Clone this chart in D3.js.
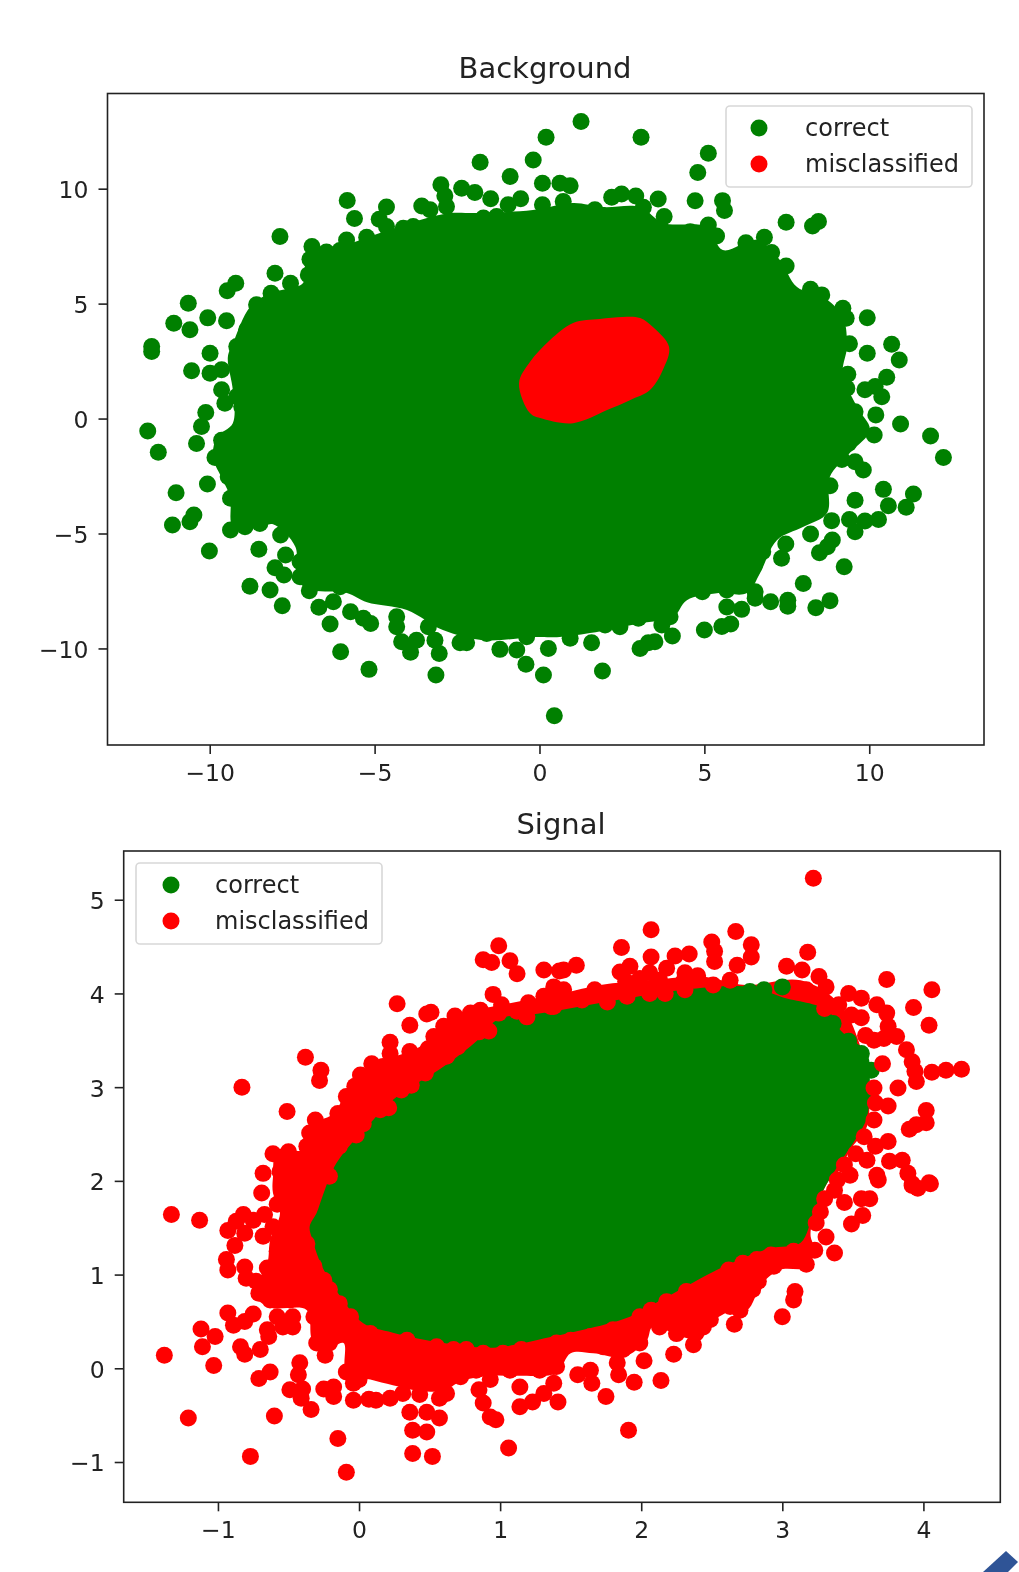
<!DOCTYPE html>
<html>
<head>
<meta charset="utf-8">
<script src="https://cdn.jsdelivr.net/npm/d3@7"></script>
<style>
  html, body { margin: 0; background: #fff; }
  svg { display: block; filter: blur(0.5px); }
  text { font-family: "DejaVu Sans", sans-serif; fill: #222; }
</style>
</head>
<body>
<div id="chart"></div>
<script>
var seriesNames = ['correct', 'misclassified']

var bgXTicks = [-10, -5, 0, 5, 10]
var bgYTicks = [-10, -5, 0, 5, 10]
var sigXTicks = [-1, 0, 1, 2, 3, 4]
var sigYTicks = [-1, 0, 1, 2, 3, 4, 5]

// the solid middle of each cloud is too dense to read point by point, so it is an outline
var bgCorrectMass = [[-9.3,-0.2],[-9.3,1.24],[-9.45,2.68],[-9.29,3.29],[-8.78,4.85],[-8.17,5.46],[-7.17,5.9],[-7.05,7.03],[-6.05,7.46],[-4.84,8.07],[-3.62,8.64],[-2.71,8.94],[-1.9,8.94],[-0.2,9.07],[1.02,9.38],[1.93,9.2],[3.05,9.2],[3.74,8.51],[5.08,8.33],[5.56,7.33],[6.6,7.77],[7.29,6.9],[7.81,5.72],[8.6,5.29],[9.2,4.42],[9.32,3.11],[9.2,1.98],[9.63,0.5],[10.02,-0.5],[9.41,-1.5],[8.8,-2.55],[8.72,-4.11],[7.99,-4.72],[7.2,-5.29],[6.69,-6.72],[6.29,-7.59],[5.38,-7.6],[4.47,-7.9],[4.05,-8.64],[3.05,-8.9],[1.53,-9.33],[0.53,-9.51],[-0.2,-9.51],[-1.71,-9.64],[-2.93,-9.2],[-4.02,-8.33],[-5.23,-7.99],[-5.84,-7.59],[-6.87,-7.46],[-7.35,-7.03],[-7.4,-5.59],[-8.08,-4.6],[-8.47,-4.72],[-9.29,-4.72],[-9.38,-3.42],[-9.6,-2.68],[-9.9,-1.68],[-9.78,-0.8]]

var bgMisclassifiedMass = [[-0.62,1.54],[-0.29,2.46],[0.32,3.42],[1.02,4.16],[1.83,4.33],[2.53,4.42],[3.05,4.37],[3.44,3.98],[3.93,3.11],[3.74,2.11],[3.35,1.24],[2.74,0.8],[2.05,0.37],[1.02,-0.2],[0.02,0.02],[-0.29,0.24]]

var bgCorrectPoints = [
  [0.20,12.24],[-1.80,11.15],[-0.19,11.25],[-0.89,10.53],[0.09,10.24],[-2.99,10.17],[-2.87,9.69],[-2.36,10.02],[-1.96,9.83],[-1.48,9.56],[-0.57,9.56],[-0.95,9.30],[0.09,9.30],[-3.57,9.25],[-4.64,9.20],[-4.86,8.67],[-5.83,9.49],[-5.61,8.70],[-5.85,7.77],[-5.24,7.89],[-7.87,7.92],[-6.90,7.48],[-6.46,7.24],[-6.96,6.93],[-6.05,7.31],[-6.05,6.54],[-7.01,6.25],[-6.66,6.40],[-8.02,6.32],[-7.55,5.89],[-8.14,5.45],[-8.58,4.95],[-9.21,5.89],[-9.47,5.56],[-10.65,5.02],[-11.09,4.15],[-10.60,3.86],[-10.06,4.38],[-9.49,4.25],[-8.88,3.86],[-11.76,3.13],[-11.76,2.92],[-9.99,2.84],[-10.55,2.08],[-9.99,1.97],[-9.64,2.12],[-9.18,3.13],[-9.64,1.25],[-9.18,0.96],[-9.54,0.67],[-9.03,0.52],[-10.12,0.26],[-10.25,-0.35],
  [-3.32,9.08],[-2.82,9.22],[-4.13,8.28],[-3.83,8.35],[-4.64,8.35],[-1.70,8.72],[-1.30,8.79],[-8.38,4.44],[-7.77,4.00],[-6.86,5.45],[-6.46,5.74],[-7.37,4.87],
  [-11.88,-0.54],[-11.56,-1.47],[-11.02,-3.23],[-10.48,-4.2],[-10.60,-4.49],[-11.13,-4.63],[-10.40,-1.08],[-9.64,-0.94],[-9.84,-1.69],[-10.07,-2.85],[-10.01,-5.76],[-9.44,-2.53],[-9.13,-2.31],[-9.37,-3.47],[-9.37,-4.85],[-8.93,-4.71],[-8.98,-3.91],[-8.48,-4.56],[-8.53,-3.47],[-7.85,-5.07],[-8.51,-5.68],[-7.70,-5.94],[-8.02,-6.49],[-7.75,-6.81],[-7.26,-6.88],[-7.26,-6.23],[-8.78,-7.29],[-8.17,-7.46],[-7.80,-8.14],[-6.98,-7.49],[-6.69,-8.21],[-6.25,-7.97],[-6.35,-8.94],[-6.03,-10.14],[-5.73,-8.40],[-5.34,-8.69],[-5.12,-8.91],[-5.17,-10.91],[-6.05,-7.32],[-4.33,-8.62],[-4.33,-9.06],[-4.18,-9.71],[-3.91,-10.17],[-3.73,-9.64],[-3.17,-9.64],[-3.04,-10.22],[-3.37,-9.06],[-3.14,-11.16],[-2.41,-9.75],[-2.21,-9.75],[-1.60,-9.35],[-1.20,-10.04],[-0.69,-10.07],[-0.39,-9.49],[-0.41,-10.69],[0.12,-11.16],[0.27,-10.0],
  [0.45,-12.93],[0.93,-9.56],[1.58,-9.75],[1.91,-10.98],[2.44,-9.06],[1.99,-8.98],[3.05,-10.0],[3.30,-9.75],[3.50,-9.71],[4.03,-9.46],[3.71,-8.98],[3.96,-8.62],[3.0,-8.69],[5.0,-9.2],[5.53,-9.05],[5.80,-8.94],[6.13,-8.30],[5.68,-8.2],[5.68,-7.46],[4.94,-7.53],[6.54,-7.53],[6.54,-7.82],[7.01,-7.97],[7.53,-7.9],[7.53,-8.16],[8.0,-7.17],[8.38,-8.23],[8.81,-7.92],[9.24,-6.45],[8.49,-5.84],[8.73,-5.58],[8.88,-5.28],[8.22,-5.02],[7.34,-6.08],[7.47,-5.46],[6.77,-5.79],[6.43,-6.59],[8.86,-4.44],[9.40,-4.39],[9.57,-4.92],[9.87,-4.46],[10.28,-4.39],[10.58,-3.79],[11.12,-3.86],[11.34,-3.28],[10.43,-3.08],[9.57,-3.55],[8.81,-2.92],[8.41,-4.01],[9.82,-2.24],[9.57,-1.88],[9.17,-1.78],[10.15,-0.72],[10.95,-0.24],[11.86,-0.76],[12.25,-1.69],[9.37,-1.08],[9.72,-0.50],
  [1.26,12.92],[3.08,12.24],[5.12,11.54],[4.80,10.70],[0.62,10.24],[0.93,10.13],[4.72,9.47],[5.55,9.48],[5.61,9.05],[3.60,9.55],[2.19,9.63],[2.49,9.77],[2.92,9.68],[3.15,9.19],[1.68,9.08],[3.78,8.79],[0.72,9.44],[7.48,8.54],[8.28,8.38],[8.46,8.57],[5.12,8.42],[4.57,8.13],[5.37,7.94],[6.82,7.89],[6.26,7.65],[7.04,7.22],[7.48,6.64],[8.22,5.62],[8.56,5.38],[9.2,4.80],[9.30,4.36],[9.94,4.39],[10.68,3.23],[10.91,2.55],[9.94,2.84],[9.40,3.25],[9.35,1.93],[10.53,1.80],[10.38,0.95],[9.87,1.25],[10.18,1.39],[9.32,1.32],[9.57,0.30],[10.2,0.16]
]

var sigMisclassifiedMass = [[1.30,3.96],[0.95,3.86],[0.64,3.75],[0.43,3.43],[0.13,3.26],[-0.06,3.04],[-0.18,2.72],[-0.37,2.58],[-0.40,2.33],[-0.58,2.33],[-0.61,2.04],[-0.61,1.87],[-0.56,1.66],[-0.63,1.37],[-0.65,1.12],[-0.75,0.80],[-0.63,0.65],[-0.37,0.62],[-0.33,0.30],[-0.23,0.20],[-0.11,0.27],[-0.09,-0.05],[0.08,-0.12],[0.24,-0.18],[0.43,-0.24],[0.60,-0.24],[0.72,-0.14],[0.93,-0.08],[1.14,-0.08],[1.40,-0.05],[1.50,0.16],[1.66,0.16],[1.87,0.12],[2.04,0.30],[2.08,0.44],[2.30,0.33],[2.42,0.30],[2.49,0.48],[2.65,0.62],[2.75,0.62],[2.86,0.91],[2.98,1.05],[3.18,1.08],[3.22,1.29],[3.20,1.44],[3.32,1.98],[3.41,2.12],[3.48,2.33],[3.60,2.58],[3.61,2.97],[3.56,3.40],[3.41,3.88],[3.13,4.14],[2.74,4.09],[2.42,4.18],[2.06,4.14],[1.71,4.09],[1.39,3.98]]

var sigCorrectMass = [[-0.16,2.19],[0.10,2.65],[0.27,2.90],[0.60,3.22],[0.84,3.50],[0.98,3.72],[1.30,3.79],[1.83,3.93],[2.30,4.04],[2.77,4.07],[3.0,3.96],[3.32,3.82],[3.41,3.61],[3.60,3.36],[3.62,3.11],[3.60,2.68],[3.53,2.47],[3.39,2.15],[3.29,1.90],[3.22,1.66],[3.13,1.34],[2.91,1.28],[2.58,1.08],[2.18,0.76],[1.92,0.55],[1.59,0.41],[1.35,0.33],[0.95,0.22],[0.60,0.27],[0.24,0.38],[0.03,0.48],[-0.13,0.76],[-0.26,1.08],[-0.33,1.37],[-0.35,1.51],[-0.30,1.66],[-0.26,1.83]]

var sigCorrectPoints = [[3.0,4.07],[2.87,4.04],[2.77,4.02],[3.47,3.49],[3.56,3.36],[3.63,3.18],[3.59,2.93],[3.36,3.68]]

var sigMisclassifiedPoints = [
  [0.99,4.51],[0.88,4.36],[0.94,4.33],[1.07,4.35],[1.12,4.21],[1.31,4.25],[1.42,4.24],[0.27,3.89],[0.36,3.66],[0.48,3.78],[0.51,3.80],[0.68,3.76],[0.79,3.79],[0.86,3.82],[0.95,3.99],[1.01,3.88],[0.99,3.79],[1.12,3.81],[1.19,3.75],[1.20,3.90],[1.31,3.97],[1.38,4.07],[1.36,3.86],[0.92,3.60],[0.85,3.59],[0.70,3.43],[0.60,3.65],[0.53,3.54],[0.62,3.33],[0.49,3.41],[0.22,3.48],[0.22,3.36],[0.36,3.38],[0.09,3.25],[0.17,3.22],[0.27,3.18],[0.37,3.22],[0.47,3.15],[0.01,3.13],[-0.38,3.32],[-0.27,3.18],[-0.28,3.07],[-0.83,3.0],[-0.51,2.74],[-0.03,3.01],[-0.09,2.90],[0.15,2.99],[0.37,3.02],[0.30,2.97],[0.03,2.85],[0.21,2.78],[0.15,2.76],[-0.15,2.72],[0.03,2.61],[-0.31,2.65],[-0.35,2.51],[-0.18,2.51],[-0.02,2.49],[-0.37,2.37],[-0.61,2.29],[-0.50,2.31],[-0.14,2.37],[-0.25,2.33],[-0.68,2.08],[-0.56,2.10],[-0.23,2.08],[-0.35,2.10],[-0.54,1.97],[-0.44,1.94],[-0.21,2.05],[-0.30,1.97],[-0.69,1.87],
  [-0.58,1.75],[-1.33,1.64],[-1.13,1.58],[-0.82,1.64],[-0.87,1.57],[-0.75,1.58],[-0.93,1.47],[-0.81,1.44],[-0.67,1.64],[-0.61,1.51],[-0.68,1.41],[-0.88,1.31],[-0.94,1.16],[-0.93,1.05],[-0.81,1.08],[-0.80,0.96],[-0.73,0.93],[-0.58,1.25],[-0.65,1.07],[-0.71,0.80],[-0.63,0.73],[-0.44,1.58],[-0.37,1.33],[-0.44,1.80],[-0.32,1.94],[-0.32,1.09],[-0.44,1.12],[-0.54,0.94],[-0.40,0.84],[-0.25,0.94],[-0.21,0.84],[-0.49,0.73],[-0.32,0.69],[-0.14,0.69],[-0.06,0.55],[-0.93,0.59],[-0.89,0.46],[-0.81,0.50],[-0.75,0.58],[-0.58,0.55],[-0.47,0.55],[-0.54,0.44],[-0.47,0.44],[-0.25,0.44],[-0.32,0.55],[-1.12,0.42],[-1.02,0.34],[-1.11,0.23],[-1.38,0.14],[-1.03,0.03],[-0.84,0.23],[-0.81,0.15],[-0.70,0.20],[-0.64,0.34],[-0.65,0.41],[-0.30,0.27],[-0.24,0.14],[-0.21,0.27],[-0.02,0.34],[0.08,0.37],[0.03,0.20],[0.15,0.23],[0.24,0.27],[0.34,0.30],[0.46,0.20],[0.55,0.23],[0.67,0.20],[0.76,0.20],[0.88,0.16],[1.02,0.16],[1.15,0.20],[1.28,0.20],[1.40,0.27],[0.03,0.05],[0.24,-0.02],[0.36,0.02],[0.48,-0.05],[0.60,-0.02],[0.72,-0.09],[0.83,-0.02],[0.93,-0.12],[1.07,-0.02],[1.28,-0.02],[1.40,0.02],[-0.09,-0.04],[-0.42,0.06],[-0.43,-0.07],[-0.63,-0.04],[-0.71,-0.11],[-0.49,-0.23],[-0.40,-0.22],[-0.41,-0.32],[-0.34,-0.44],[-0.60,-0.51],[-1.21,-0.53],[-0.25,-0.22],[-0.18,-0.20],[-0.18,-0.30],[-0.04,-0.16],[0.0,-0.12],[-0.04,-0.34],[0.07,-0.33],[0.12,-0.34],[0.22,-0.32],[0.31,-0.27],[0.43,-0.28],[0.57,-0.32],[0.62,-0.27],[0.36,-0.47],[0.48,-0.47],[0.57,-0.53],[0.38,-0.66],[0.48,-0.68],[0.38,-0.91],[0.52,-0.94],[-0.15,-0.75],[-0.09,-1.11],[-0.77,-0.94],[0.85,-0.23],[0.88,-0.37],[0.93,-0.52],[0.97,-0.55],[1.06,-0.85],[1.14,-0.20],[1.14,-0.41],[1.23,-0.36],[1.31,-0.27],[1.41,-0.36],
  [1.55,-0.07],[1.64,-0.02],[1.65,-0.16],[1.75,-0.30],[1.91,-0.66],[1.83,0.06],[1.84,-0.07],[1.95,-0.15],[2.02,0.08],[2.14,-0.13],[2.23,0.15],[2.37,0.25],[1.99,0.27],[1.87,0.20],[1.73,0.23],[1.59,0.27],[1.45,0.23],[1.38,0.02],[1.38,-0.16],[1.50,0.30],[1.64,0.34],[1.80,0.41],[1.90,0.41],[1.99,0.55],[2.07,0.62],[2.18,0.71],[2.32,0.82],[2.42,0.85],[2.51,0.89],[2.62,1.05],[2.72,1.12],[2.82,1.16],[2.92,1.21],[2.13,0.44],[2.25,0.37],[2.35,0.48],[2.23,0.59],[2.35,0.69],[2.44,0.44],[2.49,0.52],[2.46,0.69],[2.58,0.80],[2.66,0.47],[2.70,0.62],[2.79,0.84],[2.83,0.93],[2.68,0.91],[2.63,0.66],[2.94,1.09],[3.05,1.16],[3.08,1.25],[3.17,1.11],[3.09,0.82],[3.08,0.73],[3.00,0.55],[3.23,1.26],[3.37,1.23],[3.31,1.40],[3.24,1.55],[3.27,1.67],[3.30,1.81],[3.37,1.90],[3.44,1.77],[3.49,1.54],[3.57,1.63],[3.56,1.81],[3.62,1.81],[3.68,2.01],[3.92,1.95],[3.96,1.92],[4.05,1.97],
  [3.22,5.23],[2.07,4.68],[2.67,4.66],[1.86,4.49],[2.78,4.52],[2.50,4.55],[2.52,4.45],[2.78,4.39],[2.07,4.39],[2.34,4.42],[2.24,4.40],[2.52,4.34],[2.68,4.30],[3.18,4.44],[3.03,4.29],[3.14,4.25],[1.54,4.30],[1.45,4.25],[1.92,4.29],[1.85,4.23],[2.18,4.27],[2.31,4.22],[2.40,4.19],[2.06,4.22],[1.99,4.16],[2.13,4.14],[1.89,4.13],[2.30,4.13],[2.51,4.09],[2.63,4.14],[2.31,4.04],[2.17,4.00],[2.06,4.00],[1.90,3.97],[1.76,3.91],[1.67,4.04],[1.58,3.93],[1.45,4.04],[1.38,3.86],[1.38,4.04],[3.26,4.18],[3.31,4.07],[3.17,4.04],[3.74,4.15],[4.06,4.04],[3.93,3.85],[4.04,3.66],[3.47,4.00],[3.56,3.95],[3.30,3.84],[3.40,3.88],[3.49,3.77],[3.56,3.74],[3.67,3.88],[3.74,3.79],[3.75,3.65],[3.81,3.54],[3.72,3.52],[3.59,3.55],[3.65,3.50],[3.88,3.40],[3.92,3.27],[3.94,3.17],[3.95,3.06],[3.71,3.25],[4.06,3.16],[4.16,3.18],[4.27,3.19],[3.82,2.99],[3.65,2.99],[3.66,2.83],[3.75,2.80],[3.65,2.65],[4.02,2.75],[4.02,2.62],[3.95,2.60],[3.90,2.55],[3.58,2.47],[3.75,2.42],[3.66,2.37],[3.52,2.29],[3.60,2.22],[3.76,2.21],[3.85,2.22],[3.44,2.17],[3.89,2.08],[3.67,2.06],[3.39,2.01],[3.48,2.06],[4.04,1.98],[3.92,1.97]
]

var width = 1019, height = 1572, radius = 8.5
var green = '#008000', red = '#ff0000'

var svg = d3.select('#chart').append('svg')
  .attr('width', width)
  .attr('height', height)

drawPanel({
  box: {left: 107.5, right: 984, top: 93.5, bottom: 745},
  xDomain: [-13.1, 13.48], yDomain: [-14.2, 14.14],
  xTicks: bgXTicks, yTicks: bgYTicks,
  title: 'Background', titleX: 545, titleY: 78,
  legend: {left: 726, top: 106, width: 246, height: 81, markerX: 759, textX: 805, rows: [128, 164]},
  layers: [
    {mass: bgCorrectMass, color: green},
    {points: bgCorrectPoints, color: green},
    {mass: bgMisclassifiedMass, color: red}
  ]
})

drawPanel({
  box: {left: 123.7, right: 1000.3, top: 851, bottom: 1502.3},
  xDomain: [-1.668, 4.545], yDomain: [-1.43, 5.52],
  xTicks: sigXTicks, yTicks: sigYTicks,
  title: 'Signal', titleX: 561, titleY: 834,
  legend: {left: 136, top: 863, width: 246, height: 81, markerX: 171, textX: 215, rows: [885, 921]},
  layers: [
    {mass: sigMisclassifiedMass, color: red},
    {mass: sigCorrectMass, color: green},
    {points: sigCorrectPoints, color: green},
    {points: sigMisclassifiedPoints, color: red}
  ]
})

// corner of a page decoration that the screenshot caught
svg.append('path')
  .attr('d', 'M1006,1551L1018,1562L1008,1572L983,1572Z')
  .attr('fill', '#2f5496')

function drawPanel(p){
  var x = d3.scaleLinear().domain(p.xDomain).range([p.box.left, p.box.right])
  var y = d3.scaleLinear().domain(p.yDomain).range([p.box.bottom, p.box.top])
  var g = svg.append('g')

  var outline = d3.line().x(d => x(d[0])).y(d => y(d[1])).curve(d3.curveCatmullRomClosed.alpha(0.5))

  p.layers.forEach(function(l){
    if (l.mass){
      g.append('path').attr('d', outline(l.mass)).attr('fill', l.color)
    } else {
      g.append('g').selectAll('circle').data(l.points).join('circle')
        .attr('cx', d => x(d[0]))
        .attr('cy', d => y(d[1]))
        .attr('r', radius)
        .attr('fill', l.color)
    }
  })

  var xAxis = d3.axisBottom(x).tickValues(p.xTicks).tickFormat(d3.format('d')).tickSize(9).tickPadding(10)
  var yAxis = d3.axisLeft(y).tickValues(p.yTicks).tickFormat(d3.format('d')).tickSize(9).tickPadding(10)

  var gx = g.append('g').attr('transform', 'translate(0,' + p.box.bottom + ')').call(xAxis)
  var gy = g.append('g').attr('transform', 'translate(' + p.box.left + ',0)').call(yAxis)
  ;[gx, gy].forEach(function(a){
    a.select('.domain').remove()
    a.selectAll('line').attr('stroke', '#222').attr('stroke-width', 1.6)
    a.selectAll('text').attr('font-size', 23.5).attr('font-family', '"DejaVu Sans", sans-serif').attr('fill', '#222')
  })
  gy.selectAll('text').attr('dy', '0.38em')

  g.append('rect')
    .attr('x', p.box.left).attr('y', p.box.top)
    .attr('width', p.box.right - p.box.left).attr('height', p.box.bottom - p.box.top)
    .attr('fill', 'none').attr('stroke', '#222').attr('stroke-width', 1.6)

  g.append('text')
    .attr('x', p.titleX).attr('y', p.titleY)
    .attr('text-anchor', 'middle').attr('font-size', 29)
    .text(p.title)

  var l = p.legend
  g.append('rect')
    .attr('x', l.left).attr('y', l.top).attr('width', l.width).attr('height', l.height).attr('rx', 4)
    .attr('fill', '#fff').attr('fill-opacity', 0.8).attr('stroke', '#d8d8d8').attr('stroke-width', 1.6)

  seriesNames.forEach(function(name, i){
    g.append('circle')
      .attr('cx', l.markerX).attr('cy', l.rows[i]).attr('r', radius)
      .attr('fill', i == 0 ? green : red)
    g.append('text')
      .attr('x', l.textX).attr('y', l.rows[i] + 7.5)
      .attr('font-size', 24)
      .text(name)
  })
}
</script>
</body>
</html>
